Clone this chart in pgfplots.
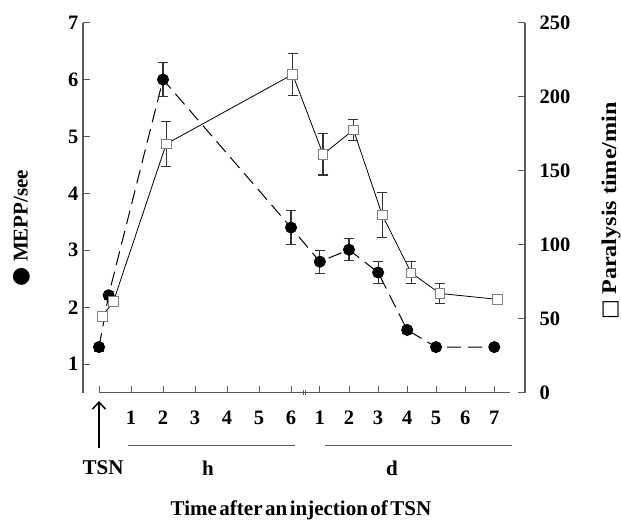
\documentclass[border=0pt]{standalone}
\usepackage{fontspec}
\setmainfont{Liberation Serif}
\newfontfamily\symfont{DejaVu Sans}
\usepackage{pgfplots}
\pgfplotsset{compat=1.18}
\usetikzlibrary{arrows.meta}
\definecolor{axgray}{gray}{0.35}
\definecolor{ebgray}{gray}{0.2}

\pgfplotstableread{
x y e
0 1.30 0.07
0.3 2.21 0.07
2 6.00 0.30
6 3.40 0.30
6.9 2.80 0.20
7.81 3.01 0.19
8.72 2.61 0.20
9.63 1.60 0.06
10.53 1.30 0.05
12.35 1.30 0.05
}\mepp

\pgfplotstableread{
x y e
0.1 51.5 3
0.45 61.5 3
2.1 168 15
6.05 215 14
7.0 161 14
7.95 177.5 7
8.85 120 15
9.75 81 7.5
10.65 67 7
12.45 63 2
}\paral

\begin{document}
\begin{tikzpicture}
\useasboundingbox (0pt,0pt) rectangle (621pt,520pt);
\pgfplotsset{
  common/.style={
    scale only axis, width=442pt, height=370pt,
    xmin=-0.5, xmax=13.31,
    at={(83pt,127.4pt)}, anchor=south west,
    clip=false,
    /pgf/number format/assume math mode=true,
    tick label style={font=\fontsize{20.5}{20.5}\selectfont\bfseries},
    tick align=inside,
  }
}
\begin{axis}[common,
  ymin=0.5, ymax=7,
  axis y line*=left,
  axis x line*=bottom,
  x axis line style={draw=none},
  ytick={1,...,7},
  xtick={0,1,2,3,4,5,6,6.9,7.81,8.72,9.63,10.53,11.44,12.35},
  xticklabels={,1,2,3,4,5,6,1,2,3,4,5,6,7},
  x tick style={axgray, line width=0.8pt},
  y tick style={axgray, line width=0.8pt},
  xtick pos=bottom,
  x tick label style={yshift=-15pt},
  y tick label style={xshift=-1pt},
  major tick length=7pt,
  y axis line style={axgray, line width=1.2pt, -},
]
\addplot[black, line width=1pt, dash pattern=on 14pt off 7pt,
  mark=*, mark size=5.5pt, mark options={solid, fill=black},
  error bars/.cd, y dir=both, y explicit,
  error bar style={ebgray, line width=1.1pt, solid},
  error mark options={rotate=90, mark size=5pt, ebgray, line width=1.1pt, solid}]
  table[x=x, y=y, y error=e] {\mepp};
\draw[axgray, line width=1pt] (axis cs:0,0.5) -- (axis cs:12.84,0.5);
\draw[axgray, line width=0.7pt] (axis cs:6.37,0.45) -- (axis cs:6.37,0.55)
  (axis cs:6.46,0.45) -- (axis cs:6.46,0.55);
\end{axis}

\begin{axis}[common,
  ymin=0, ymax=250,
  axis y line*=right,
  axis x line=none,
  ytick={0,50,...,250},
  y tick style={axgray, line width=0.8pt},
  y tick label style={xshift=11pt},
  major tick length=7pt,
  y axis line style={axgray, line width=1.2pt, -},
]
\addplot[black, line width=0.8pt,
  mark=square*, mark size=4.8pt, mark options={fill=white, draw=gray, line width=0.8pt},
  error bars/.cd, y dir=both, y explicit,
  error bar style={ebgray, line width=1.1pt},
  error mark options={rotate=90, mark size=5pt, ebgray, line width=1.1pt}]
  table[x=x, y=y, y error=e] {\paral};
\end{axis}

% annotations below the x axis
\draw[black, line width=1.5pt, -{Straight Barb[length=7pt,width=13pt]}] (99pt,72pt) -- (99pt,119pt);
\node[font=\fontsize{21}{21}\selectfont\bfseries] at (103pt,52pt) {TSN};
\node[font=\fontsize{21}{21}\selectfont\bfseries] at (208pt,52pt) {h};
\node[font=\fontsize{21}{21}\selectfont\bfseries] at (392pt,52pt) {d};
\draw[axgray, line width=1pt] (128pt,75pt) -- (295pt,75pt);
\draw[axgray, line width=1pt] (325pt,75pt) -- (512pt,75pt);
\node[font=\fontsize{21}{21}\selectfont\bfseries, anchor=base] at (301pt,5pt)
  {\spaceskip=0.12em Time after an injection of TSN};
\node[rotate=90, font=\fontsize{21}{21}\selectfont\bfseries] at (22pt,292pt)
  {{\symfont\fontsize{22}{22}\selectfont ●} MEPP/see};
\node[rotate=90, font=\fontsize{21}{21}\selectfont\bfseries, inner sep=0pt] at (611pt,309pt)
  {{\symfont\fontsize{21}{21}\selectfont □} \scalebox{1.15}[1]{Paralysis time/min}};
\end{tikzpicture}
\end{document}
